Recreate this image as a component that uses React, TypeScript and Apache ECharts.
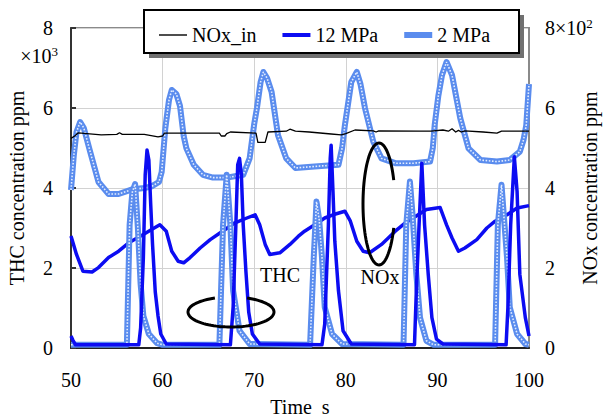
import React, { useEffect, useRef } from "react";
import * as echarts from "echarts";

// ---------- data ----------
const xTicks = [50, 60, 70, 80, 90, 100];
const yTicks = [0, 2, 4, 6, 8];
const legendNames = ["NOx_in", "12 MPa", "2 MPa"];

// NOx_in (right axis, x10^2 ppm)
const noxInData: [number, number][] = [
  [50.0, 5.24], [50.4, 5.3], [50.8, 5.38], [53.3, 5.33], [55.0, 5.34], [55.3, 5.38], [55.6, 5.34],
  [58.0, 5.34], [59.5, 5.28], [60.0, 5.3], [60.2, 5.37], [66.2, 5.37], [66.4, 5.3], [66.8, 5.3],
  [67.0, 5.36], [67.4, 5.4], [70.2, 5.37], [70.4, 5.14], [71.2, 5.14], [71.5, 5.4], [73.5, 5.42],
  [73.9, 5.47], [74.5, 5.42], [76.0, 5.4], [78.4, 5.35], [79.5, 5.33], [80.0, 5.36], [81.0, 5.45],
  [83.0, 5.43], [83.3, 5.4], [83.6, 5.43], [88.0, 5.42], [89.3, 5.42], [90.6, 5.45], [91.2, 5.42],
  [91.6, 5.48], [92.0, 5.4], [92.3, 5.44], [92.6, 5.4], [93.0, 5.43], [95.0, 5.4], [96.5, 5.37],
  [97.0, 5.42], [100.0, 5.42],
];

// 12 MPa NOx (right axis)
const nox12Data: [number, number][] = [
  [50.0, 2.8], [50.6, 2.34], [51.3, 1.92], [52.3, 1.9], [53.0, 2.01], [54.1, 2.26], [55.2, 2.42],
  [56.3, 2.63], [57.9, 2.84], [58.8, 2.96], [59.7, 3.08], [60.4, 2.92], [61.0, 2.42], [61.7, 2.17],
  [62.3, 2.13], [63.0, 2.26], [64.1, 2.5], [65.2, 2.71], [66.3, 2.88], [67.9, 3.13], [69.2, 3.25],
  [70.1, 3.33], [70.6, 3.08], [71.2, 2.59], [71.7, 2.34], [72.8, 2.38], [73.9, 2.59], [74.8, 2.79],
  [75.5, 2.92], [76.6, 3.08], [77.7, 3.25], [78.6, 3.33], [79.9, 3.42], [80.5, 3.17], [81.2, 2.67],
  [81.9, 2.42], [82.6, 2.38], [83.9, 2.59], [85.4, 2.92], [86.5, 3.13], [87.6, 3.29], [88.8, 3.46],
  [90.3, 3.51], [91.0, 3.08], [91.6, 2.75], [92.3, 2.42], [93.0, 2.5], [94.3, 2.71], [95.4, 3.0],
  [96.3, 3.17], [97.6, 3.33], [98.7, 3.5], [100.0, 3.56],
];

// 12 MPa THC (left axis, x10^3 ppm)
const thc12Data: [number, number][] = [
  [50.0, 0.3], [50.2, 0.2], [50.5, 0.08], [57.4, 0.08], [57.6, 0.5], [57.9, 2.26], [58.1, 4.33],
  [58.3, 4.95], [58.5, 4.7], [58.7, 3.6], [58.9, 2.6], [59.2, 1.4], [59.5, 0.8], [59.8, 0.35],
  [60.4, 0.1], [67.4, 0.08], [67.7, 1.02], [68.0, 3.08], [68.2, 4.58], [68.4, 4.74], [68.6, 4.33],
  [68.8, 3.08], [69.1, 1.9], [69.4, 0.9], [69.8, 0.35], [70.6, 0.1], [77.4, 0.08], [77.7, 0.6],
  [78.1, 3.08], [78.3, 4.74], [78.4, 5.07], [78.6, 3.91], [78.8, 2.67], [79.2, 1.43], [79.7, 0.43],
  [80.6, 0.1], [87.5, 0.08], [87.7, 1.43], [88.0, 3.08], [88.3, 4.62], [88.6, 3.08], [89.0, 1.84],
  [89.4, 0.76], [89.9, 0.22], [90.6, 0.1], [97.5, 0.08], [97.7, 1.02], [98.0, 3.08], [98.4, 4.78],
  [98.7, 3.91], [99.0, 1.84], [99.6, 0.76], [100.0, 0.3],
];

// 2 MPa NOx (right axis)
const nox2Data: [number, number][] = [
  [50.0, 3.95], [50.3, 4.8], [50.6, 5.4], [51.0, 5.65], [51.4, 5.5], [52.1, 4.9], [53.0, 4.15],
  [54.1, 3.85], [55.2, 3.85], [56.6, 3.96], [58.0, 4.0], [58.8, 4.04], [59.6, 4.15], [59.9, 4.4],
  [60.3, 5.5], [60.7, 6.2], [61.0, 6.45], [61.5, 6.35], [61.9, 6.05], [62.3, 5.3], [62.6, 4.99],
  [63.4, 4.58], [64.4, 4.33], [65.5, 4.26], [67.0, 4.26], [68.8, 4.33], [69.5, 4.74], [70.0, 5.6],
  [70.3, 6.0], [70.7, 6.65], [71.0, 6.9], [71.4, 6.75], [71.9, 6.4], [72.6, 5.32], [73.5, 4.74],
  [74.5, 4.5], [76.6, 4.54], [79.2, 4.58], [79.6, 5.0], [79.9, 5.57], [80.6, 6.65], [81.2, 6.9],
  [81.6, 6.6], [82.1, 5.99], [83.0, 5.16], [83.9, 4.74], [85.4, 4.62], [87.4, 4.62], [89.2, 4.66],
  [89.5, 5.0], [89.7, 5.57], [90.1, 6.3], [90.5, 6.82], [91.0, 7.15], [91.6, 6.82], [92.5, 5.74],
  [93.4, 4.99], [94.7, 4.7], [96.5, 4.66], [97.9, 4.7], [99.0, 4.91], [99.4, 5.2], [99.7, 5.57],
  [100.0, 6.6],
];

// 2 MPa THC (left axis)
const thc2Data: [number, number][] = [
  [50.0, 0.08], [56.1, 0.08], [56.4, 3.08], [56.7, 3.9], [57.0, 4.1], [57.3, 3.0], [57.6, 1.6],
  [57.9, 0.8], [58.5, 0.35], [59.4, 0.12], [60.0, 0.08], [66.2, 0.08], [66.6, 3.08], [67.0, 4.33],
  [67.4, 3.08], [67.7, 1.43], [68.4, 0.43], [69.5, 0.1], [76.1, 0.08], [76.5, 2.26], [76.8, 3.66],
  [77.1, 3.2], [77.4, 2.26], [77.7, 1.02], [78.5, 0.35], [79.6, 0.1], [86.3, 0.08], [86.6, 3.08],
  [87.0, 4.16], [87.3, 3.3], [87.7, 1.84], [88.1, 0.76], [88.8, 0.18], [89.6, 0.08], [96.3, 0.08],
  [96.6, 3.08], [97.0, 4.08], [97.6, 2.26], [97.9, 1.02], [98.7, 0.35], [99.6, 0.1], [100.0, 0.08],
];

// ---------- styling ----------
const FONT = "'Liberation Serif', 'Times New Roman', serif";
const DARK_BLUE = "#0c0cf2";
const LIGHT_BLUE = "#5a8cee";

function arcPoints(cx: number, cy: number, rx: number, ry: number, from: number, to: number) {
  const pts: number[][] = [];
  const n = 80;
  for (let i = 0; i <= n; i++) {
    const a = ((from + ((to - from) * i) / n) * Math.PI) / 180;
    pts.push([cx + rx * Math.cos(a), cy - ry * Math.sin(a)]);
  }
  return pts;
}

export default function App() {
  const ref = useRef<HTMLDivElement>(null);

  useEffect(() => {
    if (!ref.current) return;
    const chart = echarts.init(ref.current, undefined, { renderer: "svg" });

    const baseLine = (name: string, data: [number, number][], yAxisIndex: number, color: string, width: number) => ({
      type: "line",
      name,
      data,
      yAxisIndex,
      symbol: "none",
      showSymbol: false,
      lineStyle: { color, width, join: "round" },
      itemStyle: { color },
      emphasis: { disabled: true },
    });

    const overlay = (data: [number, number][], yAxisIndex: number) => ({
      type: "line",
      name: "_pattern",
      data,
      yAxisIndex,
      symbol: "none",
      showSymbol: false,
      silent: true,
      lineStyle: { color: "rgba(235,242,255,0.95)", width: 1.6, type: [1.6, 1.6] },
      emphasis: { disabled: true },
    });

    chart.setOption({
      animation: false,
      backgroundColor: "#fff",
      textStyle: { fontFamily: FONT },
      grid: {
        left: 71,
        right: 79,
        top: 28,
        bottom: 72,
        containLabel: false,
        outerBoundsMode: "none",
        show: true,
        borderColor: "#8a8a8a",
        borderWidth: 2,
        backgroundColor: "transparent",
      },
      legend: {
        data: [
          { name: legendNames[0], icon: "path://M0,0h28v1.4h-28z", itemStyle: { color: "#000" } },
          { name: legendNames[1], icon: "path://M0,0h28v4h-28z", itemStyle: { color: DARK_BLUE } },
          { name: legendNames[2], icon: "path://M0,0h28v6h-28z", itemStyle: { color: LIGHT_BLUE } },
        ],
        left: 154,
        top: 20,
        itemWidth: 28,
        itemHeight: 20,
        itemGap: 26,
        textStyle: { fontFamily: FONT, fontSize: 20, color: "#000" },
        selectedMode: false,
        z: 10,
      },
      xAxis: {
        type: "value",
        min: xTicks[0],
        max: xTicks[xTicks.length - 1],
        interval: 10,
        name: "Time  s",
        nameLocation: "middle",
        nameGap: 49,
        nameTextStyle: { fontFamily: FONT, fontSize: 20, color: "#000" },
        axisLine: { show: true, onZero: false, lineStyle: { color: "#222", width: 2 } },
        axisTick: { show: false },
        axisLabel: { fontFamily: FONT, fontSize: 20, color: "#000", margin: 22 },
        splitLine: { show: true, lineStyle: { color: "#d2d2d2", width: 1 } },
      },
      yAxis: [
        {
          type: "value",
          min: yTicks[0],
          max: yTicks[yTicks.length - 1],
          interval: 2,
          name: "THC concentration ppm",
          nameLocation: "middle",
          nameRotate: 90,
          nameGap: 44,
          nameTextStyle: { fontFamily: FONT, fontSize: 20, color: "#000" },
          axisLine: { show: true, lineStyle: { color: "#333", width: 2 } },
          axisTick: { show: true, inside: true, length: 5, lineStyle: { color: "#333", width: 2 } },
          axisLabel: { fontFamily: FONT, fontSize: 20, color: "#000", margin: 18 },
          splitLine: { show: true, lineStyle: { color: "#d2d2d2", width: 1 } },
        },
        {
          type: "value",
          position: "right",
          min: yTicks[0],
          max: yTicks[yTicks.length - 1],
          interval: 2,
          axisLine: { show: true, lineStyle: { color: "#8a8a8a", width: 2 } },
          axisTick: { show: false },
          axisLabel: {
            fontFamily: FONT,
            fontSize: 20,
            color: "#000",
            margin: 16,
            formatter: (v: number) => (v === 8 ? "8×10{sup|2}" : String(v)),
            rich: {
              sup: { fontFamily: FONT, fontSize: 13, color: "#000", verticalAlign: "bottom", padding: [0, 0, 10, 0] },
            },
          },
          splitLine: { show: false },
        },
      ],
      series: [
        baseLine("2 MPa", nox2Data, 1, LIGHT_BLUE, 6),
        overlay(nox2Data, 1),
        baseLine("12 MPa", nox12Data, 1, DARK_BLUE, 3.5),
        baseLine("2 MPa", thc2Data, 0, LIGHT_BLUE, 6),
        overlay(thc2Data, 0),
        baseLine("12 MPa", thc12Data, 0, DARK_BLUE, 3.5),
        baseLine("NOx_in", noxInData, 1, "#000", 1.3),
      ],
      graphic: [
        { type: "rect", z: 8, shape: { x: 149, y: 15, width: 375, height: 43 }, style: { fill: "#707070" } },
        { type: "rect", z: 9, shape: { x: 144, y: 10, width: 375, height: 43 }, style: { fill: "#fff", stroke: "#000", lineWidth: 2 } },
        {
          type: "text",
          z: 9,
          x: 58,
          y: 56,
          style: {
            text: "×10{sup|3}",
            fill: "#000",
            font: `20px ${FONT}`,
            align: "right",
            verticalAlign: "middle",
            rich: { sup: { fontSize: 13, fontFamily: FONT, fill: "#000", padding: [0, 0, 10, 0] } },
          },
        },
        {
          type: "text",
          z: 9,
          x: 590,
          y: 188,
          rotation: Math.PI / 2,
          style: {
            text: "NOx concentration ppm",
            fill: "#000",
            font: `20px ${FONT}`,
            align: "center",
            verticalAlign: "middle",
          },
        },
        { type: "text", z: 9, x: 280, y: 275, style: { text: "THC", fill: "#000", font: `20px ${FONT}`, align: "center", verticalAlign: "middle" } },
        { type: "text", z: 9, x: 380, y: 277, style: { text: "NOx", fill: "#000", font: `20px ${FONT}`, align: "center", verticalAlign: "middle" } },
        {
          type: "polyline",
          z: 9,
          shape: { points: arcPoints(231, 312, 43, 15, 112, 428) },
          style: { stroke: "#000", lineWidth: 3, fill: null },
        },
        {
          type: "polyline",
          z: 9,
          shape: { points: arcPoints(379, 204, 16, 61, 23, 337) },
          style: { stroke: "#000", lineWidth: 3, fill: null },
        },
      ],
    });

    return () => chart.dispose();
  }, []);

  return (
    <div
      ref={ref}
      style={{ position: "fixed", left: 0, top: 0, width: 608, height: 420, background: "#fff" }}
    />
  );
}
